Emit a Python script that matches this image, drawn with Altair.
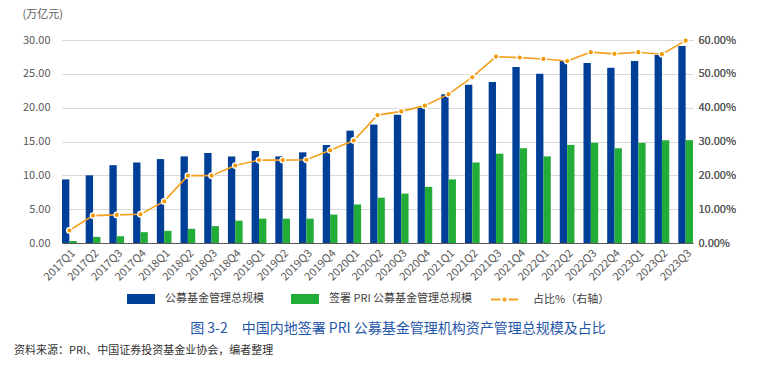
import altair as alt
import pandas as pd

quarters = [
    "2017Q1", "2017Q2", "2017Q3", "2017Q4",
    "2018Q1", "2018Q2", "2018Q3", "2018Q4",
    "2019Q1", "2019Q2", "2019Q3", "2019Q4",
    "2020Q1", "2020Q2", "2020Q3", "2020Q4",
    "2021Q1", "2021Q2", "2021Q3", "2021Q4",
    "2022Q1", "2022Q2", "2022Q3", "2022Q4",
    "2023Q1", "2023Q2", "2023Q3",
]
total_aum = [9.4, 10.0, 11.5, 11.9, 12.4, 12.8, 13.3, 12.8, 13.6, 12.8, 13.4, 14.5,
             16.6, 17.5, 18.95, 20.0, 22.0, 23.4, 23.8, 26.0, 25.0, 26.9, 26.6, 25.9,
             26.9, 27.8, 29.1]
pri_aum = [0.3, 0.9, 1.0, 1.6, 1.8, 2.1, 2.5, 3.3, 3.6, 3.6, 3.6, 4.2,
           5.7, 6.7, 7.3, 8.3, 9.4, 11.9, 13.2, 14.0, 12.8, 14.5, 14.8, 14.0,
           14.8, 15.2, 15.2]
ratio_pct = [3.7, 8.1, 8.3, 8.5, 12.3, 19.9, 19.9, 22.9, 24.5, 24.5, 24.6, 27.4,
             30.3, 37.8, 38.9, 40.6, 44.0, 49.0, 55.1, 54.8, 54.4, 53.8, 56.4, 55.9,
             56.4, 55.8, 59.8]

series_total = "公募基金管理总规模"
series_pri = "签署 PRI 公募基金管理总规模"
series_ratio = "占比%（右轴）"
caption = "图 3-2　中国内地签署 PRI 公募基金管理机构资产管理总规模及占比"
source = "资料来源：PRI、中国证券投资基金业协会，编者整理"
y_unit = "(万亿元)"
left_ticks = [0, 5, 10, 15, 20, 25, 30]
right_ticks = [0, 0.1, 0.2, 0.3, 0.4, 0.5, 0.6]

n = len(quarters)
bars_df = pd.DataFrame({
    "quarter": quarters * 2,
    "series": [series_total] * n + [series_pri] * n,
    "value": total_aum + pri_aum,
})
line_df = pd.DataFrame({
    "quarter": quarters,
    "ratio": [r / 100 for r in ratio_pct],
    "series": [series_ratio] * n,
})

FONT = "Noto Sans CJK SC"
LABEL_COLOR = "#595959"

x_enc = alt.X(
    "quarter:N", sort=quarters,
    scale=alt.Scale(paddingInner=0.38, paddingOuter=0),
    axis=alt.Axis(
        labelAngle=-45, labelFontSize=11, labelColor=LABEL_COLOR, labelPadding=4,
        ticks=False, domain=True, domainColor="#595959", domainWidth=1.2,
        title=caption, titleFontSize=14, titleFontWeight="normal",
        titleColor="#1f56a8", titleX=335.5, titleY=85, titleAlign="center",
        titleBaseline="middle", titleAnchor="middle",
    ),
)

y_right = alt.Y(
    "ratio:Q", scale=alt.Scale(domain=[0, 0.6], nice=False),
    axis=alt.Axis(
        orient="right", values=right_ticks, tickCount=7, format=".2%", labelFontSize=11,
        labelColor=LABEL_COLOR, labelPadding=5, ticks=False, domain=False,
        grid=False, title=None, labelOverlap=False,
    ),
)

bars = alt.Chart(bars_df).mark_bar().encode(
    x=x_enc,
    xOffset=alt.XOffset("series:N", sort=[series_total, series_pri],
                        scale=alt.Scale(paddingInner=0, paddingOuter=0)),
    y=alt.Y(
        "value:Q", scale=alt.Scale(domain=[0, 30], nice=False),
        axis=alt.Axis(
            values=left_ticks, format=".2f", labelFontSize=11, labelColor=LABEL_COLOR,
            labelPadding=12, ticks=False, domain=False, grid=True, labelOverlap=False,
            gridColor="#d9d9d9", gridWidth=1,
            title=y_unit, titleAngle=0, titleX=-40, titleY=-26, titleAlign="left",
            titleBaseline="middle", titleFontSize=11, titleFontWeight="normal",
            titleColor=LABEL_COLOR,
        ),
    ),
    color=alt.Color(
        "series:N", sort=[series_total, series_pri],
        scale=alt.Scale(domain=[series_total, series_pri], range=["#003f98", "#22ac38"]),
        legend=alt.Legend(
            orient="none", legendX=65, legendY=245, direction="horizontal", title=None,
            symbolType="M-1,-0.357H1V0.357H-1Z", symbolSize=784, symbolStrokeWidth=0,
            labelFontSize=11, labelColor="#404040", labelOffset=10, columnPadding=27,
        ),
    ),
)

line = alt.Chart(line_df).mark_line(strokeWidth=1.6).encode(
    x=x_enc,
    y=y_right,
    stroke=alt.Stroke(
        "series:N",
        scale=alt.Scale(domain=[series_ratio], range=["#f5a01e"]),
        legend=alt.Legend(
            orient="none", legendX=428, legendY=245, title=None,
            symbolType="M-1,0H-0.3M0.3,0H1M-0.08,0A0.08,0.08 0 1 0 0.08,0A0.08,0.08 0 1 0 -0.08,0",
            symbolSize=729, symbolStrokeWidth=2,
            labelFontSize=11, labelColor="#404040", labelOffset=14,
        ),
    ),
)

points = alt.Chart(line_df).mark_circle(
    color="#f39800", stroke="white", strokeWidth=1.3, size=30, opacity=1
).encode(
    x=x_enc,
    y=y_right,
)

chart = alt.layer(bars, line, points).resolve_scale(
    y="independent"
).properties(
    width=631, height=203,
    autosize=alt.AutoSizeParams(type="none"),
    padding={"left": 62, "top": 40, "right": 72, "bottom": 133},
    title=alt.TitleParams(
        source, orient="bottom", anchor="start", fontSize=11, fontWeight="normal",
        color="#333333", dx=-8, offset=10,
    ),
).configure(
    font=FONT,
).configure_view(
    stroke=None,
)

chart.save("out.html", embed_options={"renderer": "svg", "actions": False})
